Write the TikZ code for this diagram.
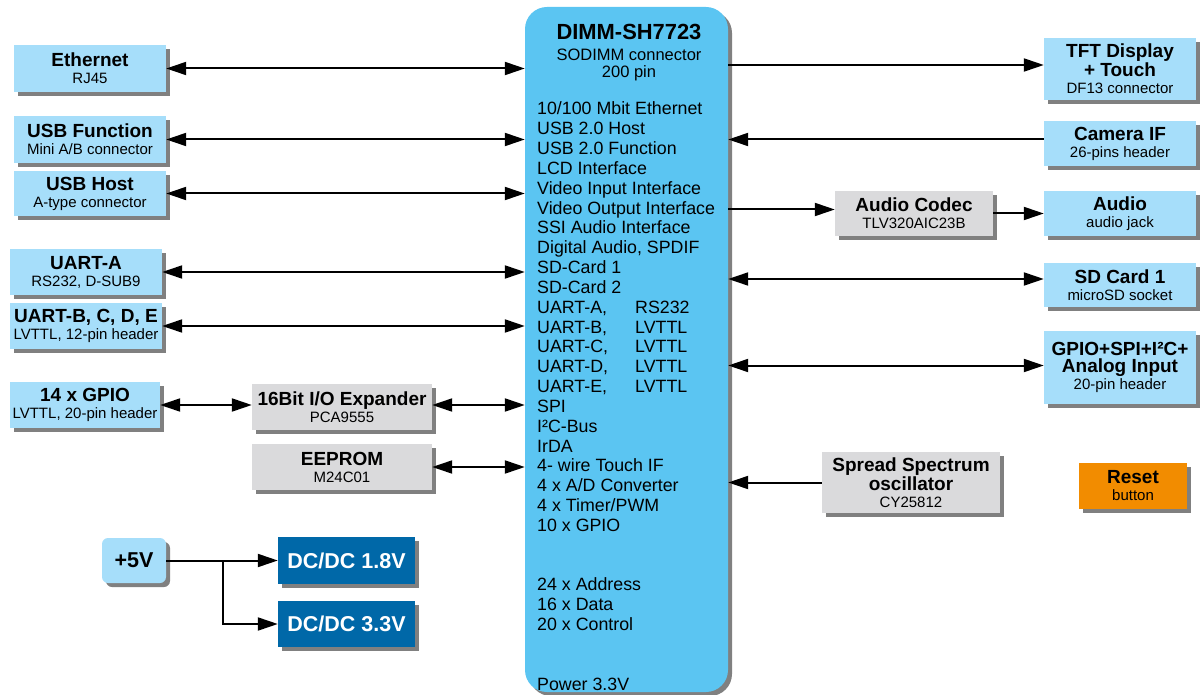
\documentclass[tikz,border=0pt]{standalone}
\usepackage{fontspec}
\setmainfont{Liberation Sans}
\usetikzlibrary{arrows.meta,shadows,calc}
\definecolor{lblue}{RGB}{166,222,250}
\definecolor{mblue}{RGB}{91,197,242}
\definecolor{dblue}{RGB}{0,104,168}
\definecolor{lgray}{RGB}{218,218,220}
\definecolor{orng}{RGB}{242,140,0}
\newcommand{\hd}[1]{{\fontsize{19}{21}\selectfont\bfseries #1}}
\tikzset{
  bigtip/.tip={Triangle[length=20pt,width=13pt]},
  blk/.style={fill=lblue, inner sep=0pt, align=center,
    font=\fontsize{15}{17}\selectfont,
    drop shadow={shadow xshift=4pt, shadow yshift=-4pt, fill=black!50, opacity=1}},
  chip/.style={blk, fill=lgray},
  conv/.style={blk, fill=dblue, text=white, font=\fontsize{21.5}{24}\selectfont\bfseries},
  link/.style={line width=2pt, -bigtip},
  blink/.style={line width=2pt, bigtip-bigtip},
}
\begin{document}
\begin{tikzpicture}[x=1pt, y=-1pt]  % 1 单位 = 1 像素
  \useasboundingbox (0,0) rectangle (1200,695);
  % 模块
  \node[blk, rounded corners=22pt, fill=mblue, minimum width=203pt, minimum height=685pt]
    (main) at (626.5,349.5) {};
  \node[blk, minimum width=152pt, minimum height=47pt] (eth) at (90,68.5) {\hd{Ethernet}\\RJ45};
  \node[blk, minimum width=152pt, minimum height=47pt] (usbf) at (90,139.5) {\hd{USB Function}\\Mini A/B connector};
  \node[blk, minimum width=152pt, minimum height=45pt] (usbh) at (90,193.5) {\hd{USB Host}\\A-type connector};
  \node[blk, minimum width=152pt, minimum height=46pt] (uarta) at (86,272) {\hd{UART-A}\\RS232, D-SUB9};
  \node[blk, minimum width=152pt, minimum height=46pt] (uartb) at (86,326) {\hd{UART-B, C, D, E}\\LVTTL, 12-pin header};
  \node[blk, minimum width=150pt, minimum height=46pt] (gpio) at (85,405) {\hd{14 x GPIO}\\LVTTL, 20-pin header};
  \node[chip, minimum width=180pt, minimum height=46pt] (ioexp) at (342,407) {\hd{16Bit I/O Expander}\\PCA9555};
  \node[chip, minimum width=180pt, minimum height=46pt] (eeprom) at (342,467) {\hd{EEPROM}\\M24C01};
  \node[blk, rounded corners=6pt, minimum width=64pt, minimum height=45pt,
    font=\fontsize{21.5}{24}\selectfont\bfseries] (p5) at (134,560.5) {+5V};
  \node[conv, minimum width=137pt, minimum height=47pt] (dc18) at (346.5,560.5) {DC/DC 1.8V};
  \node[conv, minimum width=137pt, minimum height=46pt] (dc33) at (346.5,624) {DC/DC 3.3V};
  \node[blk, minimum width=152pt, minimum height=62pt] (tft) at (1120,69) {\hd{TFT Display}\\\hd{+ Touch}\\DF13 connector};
  \node[blk, minimum width=152pt, minimum height=45pt] (cam) at (1120,143.5) {\hd{Camera IF}\\26-pins header};
  \node[chip, minimum width=158pt, minimum height=45pt] (codec) at (914,213.5) {\hd{Audio Codec}\\TLV320AIC23B};
  \node[blk, minimum width=152pt, minimum height=45pt] (audio) at (1120,213.5) {\hd{Audio}\\audio jack};
  \node[blk, minimum width=152pt, minimum height=44pt] (sd) at (1120,285) {\hd{SD Card 1}\\microSD socket};
  \node[blk, minimum width=152pt, minimum height=73pt] (gspi) at (1120,367.5) {\hd{GPIO+SPI+I²C+}\\\hd{Analog Input}\\20-pin header};
  \node[chip, minimum width=178pt, minimum height=61pt] (osc) at (911,482.5) {\hd{Spread Spectrum}\\\hd{oscillator}\\CY25812};
  \node[blk, fill=orng, minimum width=108pt, minimum height=46pt] (reset) at (1133,486) {\hd{Reset}\\button};
  % 主模块文字
  \node[font=\fontsize{21.9}{24}\selectfont\bfseries, anchor=base, inner sep=0pt] (ttl) at (629,39.5) {DIMM-SH7723};
  \node[font=\fontsize{16.5}{19}\selectfont, anchor=base, inner sep=0pt] (con) at (629,61) {SODIMM connector};
  \node[font=\fontsize{16.5}{19}\selectfont, anchor=base, inner sep=0pt] (pin) at (629,78) {200 pin};
  \foreach \t [count=\i] in {10/100 Mbit Ethernet, USB 2.0 Host, USB 2.0 Function, LCD Interface,
      Video Input Interface, Video Output Interface, SSI Audio Interface, {Digital Audio, SPDIF},
      SD-Card 1, SD-Card 2, {\makebox[98pt][l]{UART-A,}RS232}, {\makebox[98pt][l]{UART-B,}LVTTL},
      {\makebox[98pt][l]{UART-C,}LVTTL}, {\makebox[98pt][l]{UART-D,}LVTTL},
      {\makebox[98pt][l]{UART-E,}LVTTL}, SPI, I²C-Bus, IrDA, 4- wire Touch IF,
      4 x A/D Converter, 4 x Timer/PWM, 10 x GPIO, {}, {}, 24 x Address, 16 x Data,
      20 x Control, {}, {}, Power 3.3V}
    \node[font=\fontsize{17.8}{20}\selectfont, anchor=base west, inner sep=0pt]
      (ln\i) at (537,{115+19.83*(\i-1)}) {\t};
  % 连线
  \foreach \b in {eth,usbf,usbh,uarta,uartb,eeprom}
    \draw[blink] (\b) -- (\b -| main.west);
  \draw[blink] (gpio) -- (gpio -| ioexp.west);
  \draw[blink] (ioexp.east |- gpio.east) -- (gpio.east -| main.west);
  \draw[link] ([yshift=4pt]tft.west -| main.east) -- ([yshift=4pt]tft.west);
  \draw[link] ([yshift=4pt]cam.west) -- ([yshift=4pt]cam.west -| main.east);
  \draw[link] ([yshift=4pt]codec.west -| main.east) -- ([yshift=4pt]codec.west);
  \draw[link] (codec) -- (audio);
  \draw[blink] ([yshift=6pt]sd.west -| main.east) -- ([yshift=6pt]sd.west);
  \draw[blink] ([yshift=2pt]gspi.west -| main.east) -- ([yshift=2pt]gspi.west);
  \draw[link] (osc) -- (osc -| main.east);
  \coordinate (br) at ($(p5.east)!0.51!(dc18.west)$);  % 分支点
  \draw[link] (p5) -- (dc18);
  \draw[link] (br) |- (dc33);
\end{tikzpicture}
\end{document}
